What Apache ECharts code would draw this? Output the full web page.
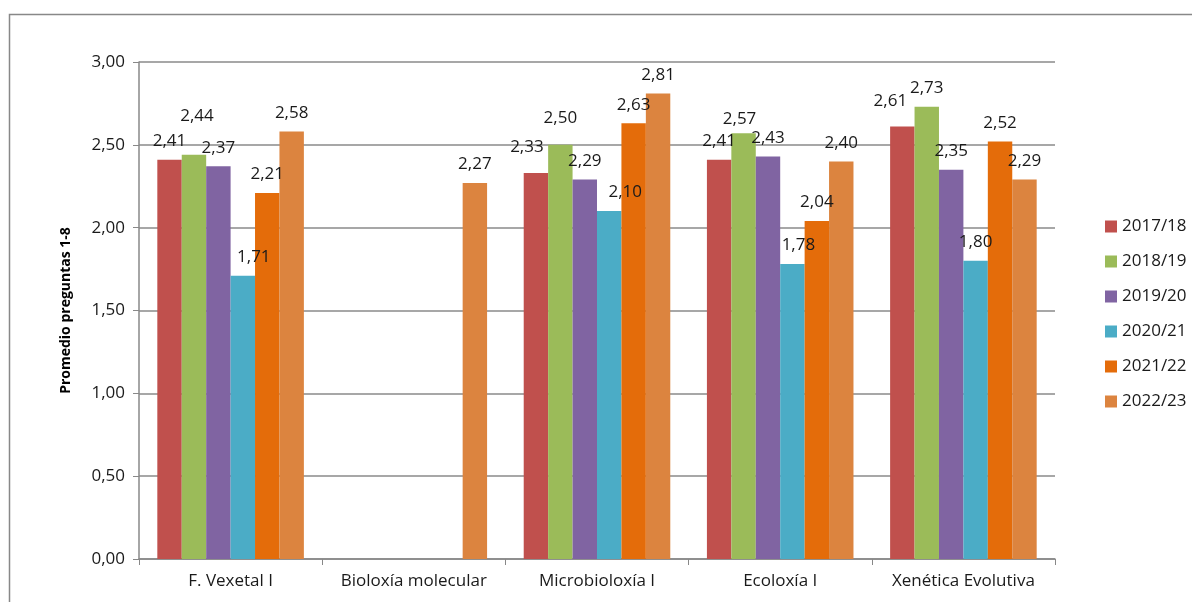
<!DOCTYPE html>
<html><head><meta charset="utf-8">
<script src="https://cdn.jsdelivr.net/npm/echarts@6/dist/echarts.min.js"></script>
<style>html,body{margin:0;padding:0;background:#fff}#c{width:1192px;height:602px}</style>
</head><body><div id="c"></div>
<script>
var categories = ['F. Vexetal I', 'Bioloxía molecular', 'Microbioloxía I', 'Ecoloxía I', 'Xenética Evolutiva'];
var seriesNames = ['2017/18', '2018/19', '2019/20', '2020/21', '2021/22', '2022/23'];
var s2017 = [2.41, null, 2.33, 2.41, 2.61];
var s2018 = [2.44, null, 2.50, 2.57, 2.73];
var s2019 = [2.37, null, 2.29, 2.43, 2.35];
var s2020 = [1.71, null, 2.10, 1.78, 1.80];
var s2021 = [2.21, null, 2.63, 2.04, 2.52];
var s2022 = [2.58, 2.27, 2.81, 2.40, 2.29];
var yTicks = [0, 0.5, 1, 1.5, 2, 2.5, 3];

// label placement nudges (px) per series, mimicking the original's manual label positions
var nudge2017 = [[0,0],[0,0],[-9,-7],[0,0],[-12,-7]];
var nudge2018 = [[3,-20],[0,0],[0,-8],[-4,4],[0,0]];
var nudge2019 = [[0,0],[0,0],[0,0],[0,0],[0,0]];
var nudge2020 = [[11,0],[0,0],[16,0],[6,0],[0,0]];
var nudge2021 = [[0,0],[0,0],[0,0],[0,0],[0,0]];
var nudge2022 = [[0,0],[0,0],[0,0],[0,0],[0,0]];

var colors = ['#C0504D', '#9BBB59', '#8064A2', '#4BACC6', '#E46C0A', '#DC843F'];
var allData = [s2017, s2018, s2019, s2020, s2021, s2022];
var allNudge = [nudge2017, nudge2018, nudge2019, nudge2020, nudge2021, nudge2022];
var font = '"Open Sans", "Liberation Sans", sans-serif';
function fmt(v){ return Number(v).toFixed(2).replace('.', ','); }
var chart = echarts.init(document.getElementById('c'));
chart.setOption({
  animation: false,
  textStyle: {fontFamily: font},
  graphic: [{type: 'rect', left: 7, top: 12, shape: {width: 1200, height: 600}, style: {fill: 'none', stroke: '#888', lineWidth: 1.5}, z: -1}],
  grid: {left: 139, right: 137, top: 62, bottom: 43},
  legend: {
    orient: 'vertical', left: 1100, top: 213, itemWidth: 12, itemHeight: 12, itemGap: 18,
    icon: 'rect', textStyle: {fontSize: 17, color: '#1a1a1a', fontFamily: font}, data: seriesNames
  },
  xAxis: {
    type: 'category', data: categories,
    axisLine: {lineStyle: {color: '#888', width: 1.5}},
    axisTick: {show: true, length: 6, lineStyle: {color: '#888'}},
    axisLabel: {interval: 0, fontSize: 17, color: '#1a1a1a', margin: 14, fontFamily: font}
  },
  yAxis: {
    type: 'value', min: yTicks[0], max: yTicks[yTicks.length - 1], interval: 0.5,
    name: 'Promedio preguntas 1-8', nameLocation: 'middle', nameGap: 66, nameRotate: 90,
    nameTextStyle: {fontSize: 14, fontWeight: 'bold', color: '#000', fontFamily: font},
    axisLine: {show: true, lineStyle: {color: '#888', width: 1.5}},
    axisTick: {show: true, length: 6, lineStyle: {color: '#888'}},
    splitLine: {lineStyle: {color: '#8a8a8a', width: 1.5}},
    axisLabel: {fontSize: 17, color: '#1a1a1a', margin: 14, fontFamily: font, formatter: function(v){ return fmt(v); }}
  },
  series: seriesNames.map(function(n, i){
    return {
      name: n, type: 'bar', barGap: '0%', barCategoryGap: '20%',
      data: allData[i].map(function(v, j){
        return {value: v, label: {offset: allNudge[i][j]}};
      }),
      itemStyle: {color: colors[i]},
      label: {show: true, position: 'top', distance: 10, fontSize: 17, color: '#1a1a1a', fontFamily: font,
        formatter: function(p){ return p.value == null ? '' : fmt(p.value); }}
    };
  })
});
</script></body></html>
